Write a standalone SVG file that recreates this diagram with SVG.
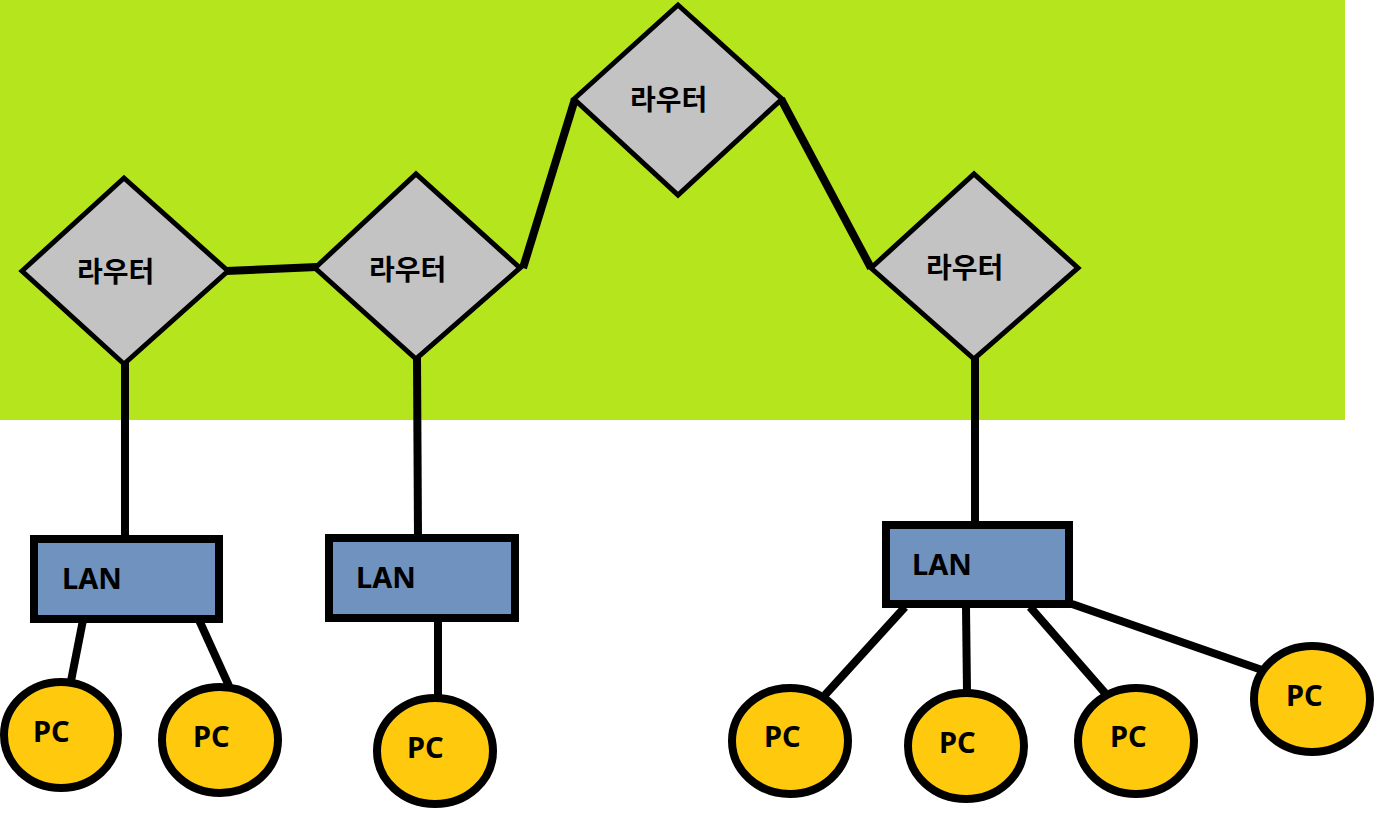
<svg xmlns="http://www.w3.org/2000/svg" width="1380" height="827" viewBox="0 0 1380 827">
<style>
.bg{fill:#b5e61d}
.router polygon{fill:#c3c3c3;stroke:#000;stroke-width:5;stroke-linejoin:miter}
.router text{font-family:"Noto Sans CJK KR","Noto Sans",sans-serif;font-weight:bold;font-size:28px;fill:#000;dominant-baseline:central}
.lan rect{fill:#7092be;stroke:#000;stroke-width:8}
.lan text,.pc text{font-family:"Noto Sans","Liberation Sans",sans-serif;font-weight:bold;font-size:29px;fill:#000}
.pc ellipse{fill:#ffc90e;stroke:#000;stroke-width:8}
.conn line{stroke:#000;stroke-width:8;stroke-linecap:butt}
</style>
<rect class="bg" x="0" y="0" width="1345" height="420"/>
<g id="connectors" class="conn">
<line x1="226" y1="271" x2="317" y2="267"/>
<line x1="523" y1="268" x2="575" y2="99"/>
<line x1="781" y1="99" x2="871" y2="268"/>
<line x1="125" y1="363" x2="125" y2="538"/>
<line x1="417" y1="358" x2="418" y2="538"/>
<line x1="975" y1="358" x2="975" y2="523"/>
<line x1="83" y1="620" x2="71" y2="681"/>
<line x1="199" y1="620" x2="229" y2="686"/>
<line x1="438" y1="620" x2="438" y2="697"/>
<line x1="905" y1="607" x2="825" y2="695"/>
<line x1="966" y1="607" x2="967" y2="692"/>
<line x1="1030" y1="607" x2="1105" y2="693"/>
<line x1="1072" y1="604" x2="1262" y2="670"/>
</g>
<g id="router1" class="router"><polygon points="22,271 124,178 228,271 124,364"/><text x="77" y="270">라우터</text></g>
<g id="router2" class="router"><polygon points="315,268 416,174 520,268 416,359"/><text x="369" y="268">라우터</text></g>
<g id="router3" class="router"><polygon points="574,99 678,5 782,99 678,195"/><text x="630" y="98">라우터</text></g>
<g id="router4" class="router"><polygon points="871,268 974,174 1078,268 974,359"/><text x="926" y="266">라우터</text></g>
<g id="lan1" class="lan"><rect x="34" y="539" width="185" height="80"/><text x="62" y="589">LAN</text></g>
<g id="lan2" class="lan"><rect x="329" y="538" width="186" height="80"/><text x="356" y="588">LAN</text></g>
<g id="lan3" class="lan"><rect x="886" y="525" width="183" height="79"/><text x="912" y="575">LAN</text></g>
<g id="pc1" class="pc"><ellipse cx="61" cy="735" rx="57" ry="53"/><text x="33" y="742">PC</text></g>
<g id="pc2" class="pc"><ellipse cx="220" cy="740" rx="58" ry="53"/><text x="193" y="747">PC</text></g>
<g id="pc3" class="pc"><ellipse cx="435" cy="751" rx="58" ry="53"/><text x="407" y="758">PC</text></g>
<g id="pc4" class="pc"><ellipse cx="790" cy="741" rx="58" ry="53"/><text x="764" y="747">PC</text></g>
<g id="pc5" class="pc"><ellipse cx="966" cy="746" rx="58" ry="53"/><text x="939" y="753">PC</text></g>
<g id="pc6" class="pc"><ellipse cx="1136" cy="741" rx="58" ry="53"/><text x="1110" y="747">PC</text></g>
<g id="pc7" class="pc"><ellipse cx="1312" cy="699" rx="58" ry="53"/><text x="1286" y="706">PC</text></g>
</svg>
